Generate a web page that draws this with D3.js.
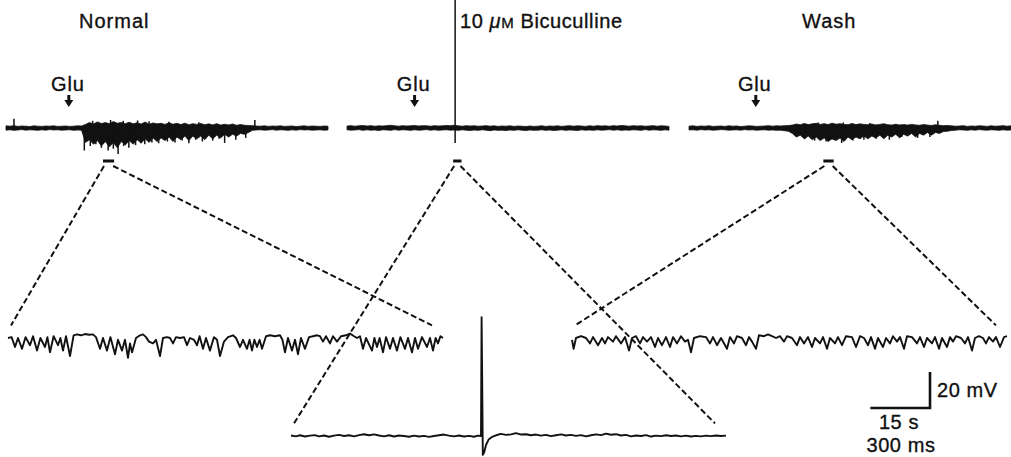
<!DOCTYPE html>
<html>
<head>
<meta charset="utf-8">
<script src="https://cdn.jsdelivr.net/npm/d3@7"></script>
<style>
  body { margin: 0; background: #fff; }
  text { font-family: "Liberation Sans", Arial, sans-serif; fill: #111; stroke: #111; stroke-width: 0.35; }
</style>
</head>
<body>
<svg id="chart" width="1011" height="457"></svg>
<script>
// ---- data (mV, s for the slow traces, ms for the expanded ones) ----
const conditions = ["Normal", "10 μM Bicuculline", "Wash"];
const gluTimes = [15.8, 17.0, 16.8];                 // s, arrow position
const markerWindows = [[24.4, 27.2], [26.7, 28.8], [33.8, 36.4]]; // s, expanded stretch

// slow traces: envelope per 1 s bin (t = 0..81 s)
const normalHi = [1.2,1.0,1.3,0.9,1.1,1.0,0.8,1.2,1.0,0.9,1.1,1.0,1.2,0.9,1.0,1.1,0.9,1.0,1.2,1.1,
  2.0,3.0,2.2,3.4,2.5,3.0,2.4,3.6,2.6,3.1,2.4,3.2,2.3,2.9,2.2,3.3,2.1,2.8,2.3,2.6,
  2.0,2.9,2.1,2.6,1.9,2.7,1.8,2.4,2.0,2.5,1.8,2.3,1.7,2.4,1.6,2.1,1.7,2.2,1.5,1.9,1.5,1.4,
  1.3,1.1,1.0,1.2,0.9,1.1,1.0,1.2,0.9,1.0,1.1,0.8,1.0,1.2,0.9,1.1,1.0,0.9,1.1,1.0];
const normalLo = [-1.2,-1.0,-1.3,-1.1,-0.9,-1.2,-1.0,-1.1,-1.3,-1.0,-1.2,-0.9,-1.1,-1.0,-1.2,-1.1,-1.0,-1.3,-1.1,-1.2,
  -8,-6.5,-9,-7,-10,-7.5,-10.5,-8,-11,-7.5,-9.5,-7,-9,-6.5,-8.5,-6,-8,-5.5,-7.5,-5.5,
  -7,-5,-7.5,-5,-6.5,-4.5,-7,-4.5,-6,-4.5,-6.5,-4,-6,-4,-5.5,-3.5,-5,-3.5,-4.5,-3,-3.5,-2.5,
  -1.3,-1.1,-1.0,-1.2,-1.1,-0.9,-1.2,-1.0,-1.1,-1.3,-1.0,-1.2,-0.9,-1.1,-1.0,-1.2,-1.1,-1.0,-1.2,-1.1];
const normalSpikes = [[2.0,5.2],[19.7,-12.5],[21.2,-10],[22.6,-9],[24.0,-11],[25.7,-12.5],[27.0,-11.5],[28.2,-14.5],
  [29.6,-10],[30.9,-11],[32.6,-9.5],[34.9,-9],[36.7,-8],[38.4,-8.5],[40.6,-7.5],[42.5,-8],[44.3,-7],[46.0,-8.5],
  [47.7,-6.5],[49.4,-7.5],[52.0,-7],[53.6,-6],[55.0,-8.3],[57.8,-6.5],[60.3,-5.5],[62.6,4.5],
  [21.8,4],[26.3,4.5],[29.5,4],[33.1,4.2],[36.0,3.8],[41.0,3.5],[48.5,3.2]];

const bicHi = [1.1,1.3,1.0,1.2,1.4,1.1,1.3,1.0,1.2,1.1,1.3,1.5,1.2,1.0,1.3,1.1,1.2,1.4,1.1,1.3,
  1.2,1.0,1.3,1.1,1.2,1.4,1.3,1.5,1.2,1.0,1.3,1.1,1.2,1.0,1.1,1.3,1.0,1.2,0.9,1.1,
  1.0,1.2,0.9,1.1,1.0,0.8,1.1,0.9,1.0,1.2,0.9,1.1,1.0,1.2,0.9,1.1,1.3,1.0,1.2,1.1,
  0.9,1.2,1.0,1.3,1.1,1.2,1.0,1.3,1.1,1.4,1.2,1.0,1.3,1.1,1.2,1.0,1.1,1.3,1.0,1.2,1.1,0.9];
const bicLo = [-1.0,-1.2,-1.1,-0.9,-1.3,-1.0,-1.2,-1.1,-1.4,-1.0,-1.1,-1.3,-0.9,-1.2,-1.0,-1.1,-1.3,-1.0,-1.2,-1.1,
  -0.9,-1.2,-1.0,-1.3,-1.1,-1.0,-1.2,-1.1,-1.3,-1.0,-1.2,-1.4,-1.1,-1.3,-1.0,-1.2,-1.5,-1.1,-1.3,-1.2,
  -1.4,-1.1,-1.3,-1.0,-1.2,-1.4,-1.1,-1.3,-1.2,-1.0,-1.3,-1.1,-1.4,-1.2,-1.0,-1.3,-1.1,-1.2,-1.4,-1.0,
  -1.2,-1.1,-1.3,-1.0,-1.2,-1.1,-0.9,-1.2,-1.0,-1.3,-1.1,-1.2,-1.0,-1.1,-1.3,-0.9,-1.2,-1.0,-1.1,-1.3,-1.0,-1.2];
const bicSpikes = [[27.2,72],[27.2,-8.3]];

const washHi = [1.0,1.2,0.9,1.1,1.0,1.2,0.9,1.0,1.1,0.9,1.2,1.0,1.1,0.8,1.0,1.2,1.1,0.9,1.0,1.1,1.3,1.0,1.2,1.1,1.3,1.4,
  1.6,2.2,1.8,2.5,1.9,2.3,2.6,2.0,2.4,1.9,2.7,2.1,2.4,2.0,1.8,2.5,1.9,2.3,2.0,1.8,
  2.2,1.7,2.0,2.4,1.8,1.6,2.1,1.7,1.9,1.6,2.0,1.7,1.5,1.9,1.6,1.4,1.8,1.5,1.3,1.4,
  1.2,1.0,1.1,1.3,0.9,1.1,1.0,1.2,1.1,0.9,1.2,1.0,1.1,1.3,1.0,1.2];
const washLo = [-1.1,-1.0,-1.2,-0.9,-1.1,-1.0,-1.2,-1.1,-0.9,-1.0,-1.2,-1.1,-1.0,-1.2,-0.9,-1.1,-1.0,-1.2,-1.1,-1.0,-1.2,-1.1,-1.3,-1.2,-1.5,-1.8,
  -3,-5,-4,-6,-4.5,-6.5,-5,-7,-5.5,-7.5,-6,-7,-5.5,-7.5,-5,-6.5,-5,-6,-4.5,-6,
  -4.5,-5.5,-4,-6,-4,-5,-3.5,-5.5,-3.5,-4.5,-3,-5,-3,-4,-2.5,-4,-2.5,-3,-2,-1.8,
  -1.4,-1.2,-1.0,-1.1,-1.3,-1.0,-1.2,-0.9,-1.1,-1.2,-1.0,-1.1,-1.3,-1.0,-1.2,-1.1];
const washSpikes = [[29.2,-6],[31.6,-7],[34.5,-7.5],[36.3,-6.5],[38.4,-8.3],[41.2,-7],[44.0,-6.5],[47.1,-6],
  [50.4,-6.5],[53.5,-5],[57.5,-5.5],[60.6,-5],[32.5,3],[38.8,3],[45.5,2.8],[62.6,4]];

// expanded traces: [ms, mV] vertices
const normalZoom = [[0,0],[18,0.5],[35,-5],[50,0],[70,-6],[88,0.5],[110,-4],[125,1],[145,-7],[162,0],[185,-5],
  [197,0.5],[210,-8],[228,1],[250,-4],[262,0],[275,-7],[290,1],[310,-10],[328,1.5],[345,2],[365,1.5],[385,2.2],
  [405,1.8],[425,2],[440,0.5],[460,-6],[475,0],[495,-7],[512,0.5],[535,-9],[550,-1],[570,-7],[585,-1],[600,-11],
  [610,-3],[620,-8],[640,0],[660,1.5],[675,2],[690,0.5],[705,-2],[725,-3],[740,-1],[760,-10],[775,0],[795,0.5],
  [810,0],[825,-3],[840,0.5],[860,0],[880,0.5],[895,-4],[910,0],[930,-1],[945,-4],[958,1],[975,-6],[990,0],
  [1010,-7],[1030,0.5],[1045,-1],[1060,-10],[1080,-2],[1100,0.5],[1125,1.5],[1140,0],[1160,-5],[1175,-1],
  [1195,-6],[1208,-1],[1220,-7],[1232,-1],[1245,-5],[1258,-1],[1270,-6],[1290,1],[1310,1.5],[1335,1],[1360,1.5],
  [1372,-1],[1385,-8],[1400,0],[1420,-7],[1435,-1],[1450,-9],[1465,0],[1485,-6],[1505,0.5],[1525,1],[1545,1.5],
  [1560,1],[1575,-2],[1590,1],[1610,-3],[1625,1],[1645,-2],[1665,1],[1690,1.5],[1710,2.5],[1730,1],[1745,0],
  [1760,1],[1775,-6],[1790,0],[1820,-7],[1832,0],[1845,-5],[1858,0],[1875,-8],[1890,0.5],[1910,-6],[1925,0],
  [1945,-7],[1962,0.5],[1985,-6],[2000,0],[2020,-8],[2035,0],[2050,-6],[2070,0.5],[2095,-5],[2110,0],[2125,-7],
  [2138,0],[2150,-3],[2162,1],[2175,0]];
const bicZoom = [[0,0.3],[25,-0.2],[45,0.4],[70,-0.3],[95,0.2],[120,0.5],[140,-0.2],[165,0.3],[190,-0.4],[215,0.2],
  [240,0.6],[265,0],[290,0.4],[315,-0.2],[340,0.5],[365,1.0],[390,0.4],[415,0.9],[440,0.3],[465,-0.2],[490,0.4],
  [515,-0.3],[540,0.3],[565,0],[590,-0.4],[615,0.2],[640,-0.3],[665,0.1],[690,-0.5],[715,0],[740,0.4],[765,0.8],
  [790,0.2],[815,-0.2],[840,0.3],[865,-0.3],[890,0.1],[915,-0.4],[935,0.2],[950,0],[953,66],[956,30],[959,-10.5],
  [966,-9],[975,-5],[988,-2],[1005,-0.5],[1025,0.4],[1050,1.2],[1075,0.6],[1100,0.9],[1125,1.6],[1150,0.8],
  [1175,1.0],[1200,0.4],[1225,0.8],[1250,0.2],[1275,0.6],[1300,-0.1],[1325,0.4],[1350,0.9],[1375,0.3],[1400,0.6],
  [1425,0.1],[1450,0.5],[1475,-0.2],[1500,0.4],[1525,0.9],[1550,0.5],[1575,1.3],[1600,0.7],[1625,1.0],[1650,0.3],
  [1675,0.6],[1700,-0.2],[1725,0.3],[1750,0],[1775,0.5],[1800,-0.3],[1825,0.2],[1850,-0.1],[1875,0.4],[1900,0],
  [1925,0.3],[1950,-0.2],[1975,0.2],[2000,-0.3],[2025,0.1],[2050,-0.2],[2075,0.2],[2100,-0.1],[2125,0.3],
  [2150,0],[2175,0.2]];
const washZoom = [[0,-1],[8,-6],[20,0],[45,1],[70,0],[90,-3],[105,0.5],[130,-4],[150,0],[165,-3],[180,0.5],
  [205,-2],[220,1],[245,-3],[265,0.5],[285,-7],[300,0],[320,1],[340,-3],[355,0.5],[375,-2],[395,0.5],[415,-5],
  [430,0],[450,-4],[470,0.5],[490,-5],[505,0.5],[525,-3],[545,1],[565,-2],[580,-1],[595,-8],[610,0],[640,1],
  [670,0.5],[690,-3],[705,0.5],[725,-4],[745,0],[775,-6],[790,0.5],[810,-3],[825,1],[850,0],[870,-4],[885,0.5],
  [900,-2],[920,-6],[935,1.5],[960,1],[980,2],[1000,1],[1020,0],[1040,1],[1060,-2],[1075,1],[1100,0],[1125,-4],
  [1140,0.5],[1160,-3],[1180,0.5],[1200,-5],[1215,0],[1240,-3],[1255,0.5],[1275,-6],[1290,0],[1315,-3],[1330,0.5],
  [1350,-4],[1370,1],[1400,0.5],[1420,-5],[1440,1],[1460,0],[1480,-4],[1495,0.5],[1515,-6],[1530,0],[1555,-5],
  [1570,0],[1590,-3],[1605,1],[1625,-2],[1640,0.5],[1660,-6],[1675,1],[1700,0.5],[1725,-3],[1740,0.5],[1760,-5],
  [1775,0],[1800,-3],[1815,0.5],[1835,-6],[1850,0],[1875,-5],[1890,0.5],[1905,-2],[1920,1],[1945,0],[1965,-3],
  [1980,0.5],[2000,-7],[2015,0],[2035,1],[2055,0],[2070,-3],[2085,0.5],[2105,-2],[2120,0.5],[2140,-5],[2160,0.5],
  [2175,1]];

const scaleBar = { seconds: 15, ms: 300, mV: 20 };

// ---- layout ----
const svg = d3.select("#chart");
const topX0 = [6, 347, 689], topW = 322, topBase = 128;
const zoomX0 = [8, 291, 572], zoomW = 435, zoomBase = [338, 436, 338];
const pxPerMV = 1.8;

const panels = [
  { hi: normalHi, lo: normalLo, spikes: normalSpikes, zoom: normalZoom },
  { hi: bicHi, lo: bicLo, spikes: bicSpikes, zoom: bicZoom },
  { hi: washHi, lo: washLo, spikes: washSpikes, zoom: washZoom }
];

const yTop = d3.scaleLinear().domain([0, scaleBar.mV]).range([topBase, topBase - scaleBar.mV * pxPerMV]);

panels.forEach((p, k) => {
  const xTop = d3.scaleLinear().domain([0, p.hi.length - 1]).range([topX0[k], topX0[k] + topW]);
  const xZoom = d3.scaleLinear().domain([0, 2175]).range([zoomX0[k], zoomX0[k] + zoomW]);
  const yZoom = d3.scaleLinear().domain([0, scaleBar.mV]).range([zoomBase[k], zoomBase[k] - scaleBar.mV * pxPerMV]);
  p.xTop = xTop;

  const g = svg.append("g");

  // slow trace envelope
  const area = d3.area()
    .x((d, i) => xTop(i))
    .y0((d, i) => yTop(p.lo[i]))
    .y1((d, i) => yTop(p.hi[i]));
  g.append("path").datum(p.hi).attr("d", area)
    .attr("fill", "#111").attr("stroke", "#111").attr("stroke-width", 0.8);

  g.selectAll("line.spike").data(p.spikes).enter().append("line")
    .attr("class", "spike")
    .attr("x1", d => xTop(d[0])).attr("x2", d => xTop(d[0]))
    .attr("y1", yTop(0)).attr("y2", d => yTop(d[1]))
    .attr("stroke", "#111").attr("stroke-width", 1.5);

  // Glu arrow
  const ax = xTop(gluTimes[k]);
  g.append("text").attr("x", ax - 1).attr("y", 91).attr("text-anchor", "middle")
    .attr("font-size", 20).attr("letter-spacing", 0.8).text("Glu");
  g.append("rect").attr("x", ax - 1.5).attr("y", 95).attr("width", 3).attr("height", 6).attr("fill", "#111");
  g.append("path").attr("d", `M${ax - 4.5},100L${ax + 4.5},100L${ax},107Z`).attr("fill", "#111");

  // marker of expanded stretch
  const m = markerWindows[k];
  g.append("rect").attr("x", xTop(m[0])).attr("y", 159.5)
    .attr("width", xTop(m[1]) - xTop(m[0])).attr("height", 3).attr("fill", "#111");

  // expanded trace
  const line = d3.line().x(d => xZoom(d[0])).y(d => yZoom(d[1]));
  g.append("path").datum(p.zoom).attr("d", line)
    .attr("fill", "none").attr("stroke", "#111").attr("stroke-width", 1.9)
    .attr("stroke-linejoin", "round");

  // dashed connectors
  const ends = [[xTop(m[0]) + 1, xZoom(15)], [xTop(m[1]) - 1, xZoom(2120)]];
  ends.forEach(e => {
    g.append("line").attr("x1", e[0]).attr("y1", 166).attr("x2", e[1]).attr("y2", yZoom(7))
      .attr("stroke", "#111").attr("stroke-width", 2).attr("stroke-dasharray", "6,3");
  });
});

// condition labels
svg.append("text").attr("x", 79).attr("y", 28).attr("font-size", 20).attr("letter-spacing", 1).text(conditions[0]);
const bicLabel = svg.append("text").attr("x", 460).attr("y", 28).attr("font-size", 20).attr("letter-spacing", 0.6);
bicLabel.append("tspan").text("10 ");
bicLabel.append("tspan").attr("font-style", "italic").text("μ");
bicLabel.append("tspan").attr("font-size", 15).text("M");
bicLabel.append("tspan").text(" Bicuculline");
svg.append("text").attr("x", 802).attr("y", 28).attr("font-size", 20).attr("letter-spacing", 1).text(conditions[2]);

// scale bar
const sbX = 930, sbY = 408;
const xW = panels[2].xTop;
const hLen = xW(scaleBar.seconds) - xW(0);
const vLen = yTop(0) - yTop(scaleBar.mV);
svg.append("path").attr("d", `M${sbX - hLen},${sbY}H${sbX}V${sbY - vLen}`)
  .attr("fill", "none").attr("stroke", "#111").attr("stroke-width", 2.6);
svg.append("text").attr("x", 937).attr("y", 397).attr("font-size", 20).attr("letter-spacing", 0.6).text(scaleBar.mV + " mV");
svg.append("text").attr("x", 899).attr("y", 429).attr("text-anchor", "middle").attr("font-size", 20).attr("letter-spacing", 0.6).text(scaleBar.seconds + " s");
svg.append("text").attr("x", 901).attr("y", 452).attr("text-anchor", "middle").attr("font-size", 20).attr("letter-spacing", 0.6).text(scaleBar.ms + " ms");
</script>
</body>
</html>
